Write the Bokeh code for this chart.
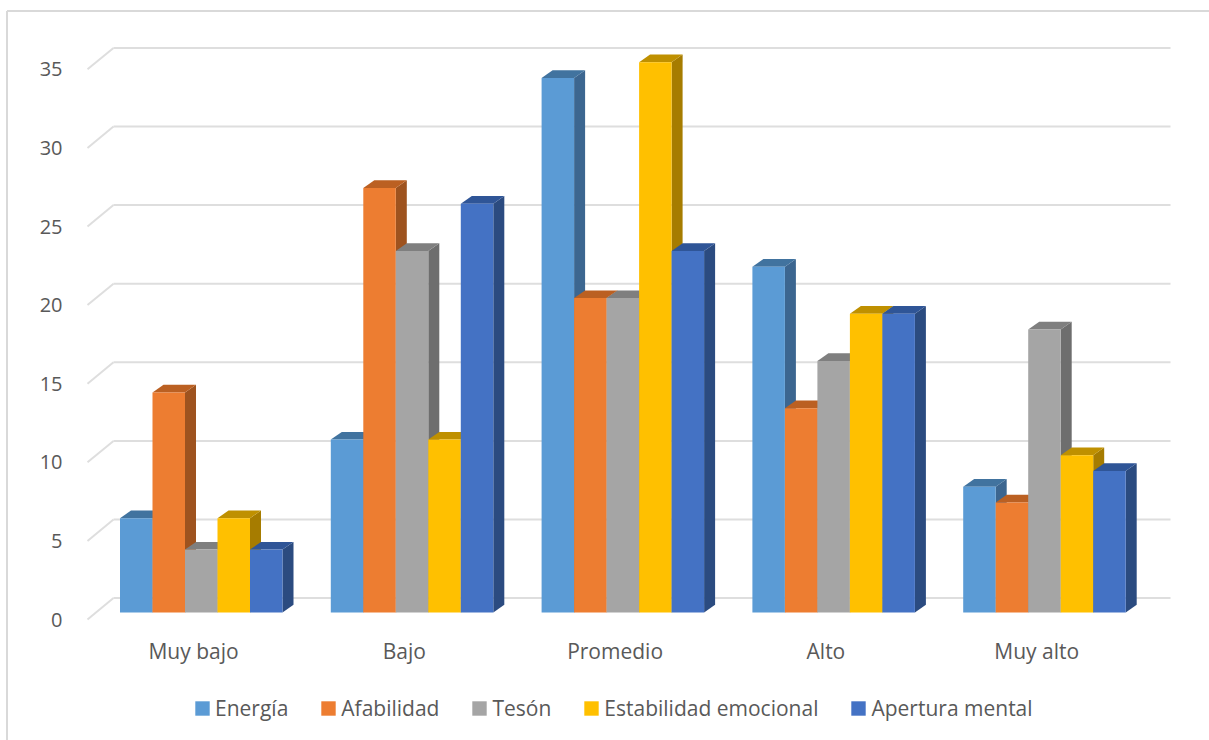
from bokeh.plotting import figure
from bokeh.models import (ColumnDataSource, Range1d, LinearAxis, FixedTicker, Legend, LegendItem)
from bokeh.embed import file_html
from bokeh.resources import INLINE

categories = ["Muy bajo", "Bajo", "Promedio", "Alto", "Muy alto"]
energia = [6, 11, 34, 22, 8]
afabilidad = [14, 27, 20, 13, 7]
teson = [4, 23, 20, 16, 18]
estabilidad = [6, 11, 35, 19, 10]
apertura = [4, 26, 23, 19, 9]
series_names = ["Energía", "Afabilidad", "Tesón", "Estabilidad emocional", "Apertura mental"]
y_ticks = [0, 5, 10, 15, 20, 25, 30, 35]

series_values = [energia, afabilidad, teson, estabilidad, apertura]
front_colors = ["#5B9BD5", "#ED7D31", "#A5A5A5", "#FFC000", "#4472C4"]
side_colors = ["#3C6690", "#9E531F", "#6E6E6E", "#A67C00", "#2B4B80"]
top_colors = ["#41739F", "#BB6022", "#7F7F7F", "#BF9000", "#2F5597"]

FONT = "Open Sans"
TEXT = "#595959"
GRID = "#DEDEDE"

# scale factors of the page layout
PX_X = 210.8      # pixels per category
PX_Y = 15.72      # pixels per value unit
X0, Y0 = 119.5, 612  # canvas position of category 0 / value 0
W, H = 1209, 740
LEFT = 87

BAR = 32.5 / PX_X
DX = 11 / PX_X
DY = 7.7 / PX_Y


def ux(px):
    return (px - X0) / PX_X


def uy(py):
    return (Y0 - py) / PX_Y


p = figure(width=W, height=H, toolbar_location=None, output_backend="svg",
           x_range=Range1d(ux(0), ux(W)), y_range=Range1d(uy(H), uy(0)),
           y_axis_location=None, min_border_left=0, min_border_right=0,
           min_border_top=0, min_border_bottom=0,
           outline_line_color=None, background_fill_color="white")
p.grid.visible = False

# chart-area border: only its top and left edges fall inside the picture
p.segment(x0=[ux(6.5), ux(6.5)], x1=[ux(W), ux(6.5)], y0=[uy(10.5), uy(10.5)], y1=[uy(10.5), uy(H)],
          line_color="#D9D9D9", line_width=2)

# wall: gridlines on the back plane and the diagonals on the left side
wall_dy = (Y0 - 597.6) / PX_Y
diag_dy = 7 / PX_Y
p.segment(x0=[ux(113)] * len(y_ticks), x1=[ux(1170)] * len(y_ticks),
          y0=[v + wall_dy for v in y_ticks], y1=[v + wall_dy for v in y_ticks],
          line_color=GRID, line_width=2)
p.segment(x0=[ux(LEFT)] * len(y_ticks), x1=[ux(113)] * len(y_ticks),
          y0=[v - diag_dy for v in y_ticks], y1=[v + wall_dy for v in y_ticks],
          line_color=GRID, line_width=2)

legend_items = []
n = len(categories)
for s, vals in enumerate(series_values):
    lefts = [i + s * BAR for i in range(n)]
    rights = [l + BAR for l in lefts]
    p.patches(xs=[[r, r + DX, r + DX, r] for r in rights],
              ys=[[0, DY, v + DY, v] for v in vals],
              fill_color=side_colors[s], line_color=None)
    p.patches(xs=[[l, l + DX, r + DX, r] for l, r in zip(lefts, rights)],
              ys=[[v, v + DY, v + DY, v] for v in vals],
              fill_color=top_colors[s], line_color=None)
    source = ColumnDataSource(dict(x=[l + BAR / 2 for l in lefts], top=vals))
    front = p.vbar(x="x", top="top", bottom=0, width=BAR, source=source,
                   fill_color=front_colors[s], line_color=None)
    legend_items.append(LegendItem(label=series_names[s], renderers=[front]))

# category axis
tick_pos = [i + ux(193) for i in range(n)]
xa = p.xaxis[0]
xa.fixed_location = uy(622)
xa.ticker = FixedTicker(ticks=tick_pos)
xa.major_label_overrides = {t: c for t, c in zip(tick_pos, categories)}
xa.axis_line_color = None
xa.major_tick_line_color = None
xa.minor_tick_line_color = None
xa.major_label_standoff = 8
xa.major_label_text_font = FONT
xa.major_label_text_font_size = "21px"
xa.major_label_text_color = TEXT

# value axis: its labels sit at the ends of the wall diagonals
p.extra_y_ranges["labels"] = Range1d(uy(H) + 7 / PX_Y, uy(0) + 7 / PX_Y)
ya = LinearAxis(y_range_name="labels", ticker=FixedTicker(ticks=y_ticks), fixed_location=ux(LEFT))
ya.axis_line_color = None
ya.major_tick_line_color = None
ya.minor_tick_line_color = None
ya.major_label_standoff = 19
ya.major_label_text_font = FONT
ya.major_label_text_font_size = "20px"
ya.major_label_text_color = TEXT
p.add_layout(ya, "left")

legend = Legend(items=legend_items, orientation="horizontal", location=(193, 18),
                border_line_color=None, background_fill_alpha=0,
                glyph_width=18, glyph_height=18, label_standoff=4, spacing=31,
                padding=0, margin=0,
                label_text_font=FONT, label_text_font_size="21px", label_text_color=TEXT)
p.add_layout(legend, "center")

open("out.html", "w").write(file_html(p, INLINE))
